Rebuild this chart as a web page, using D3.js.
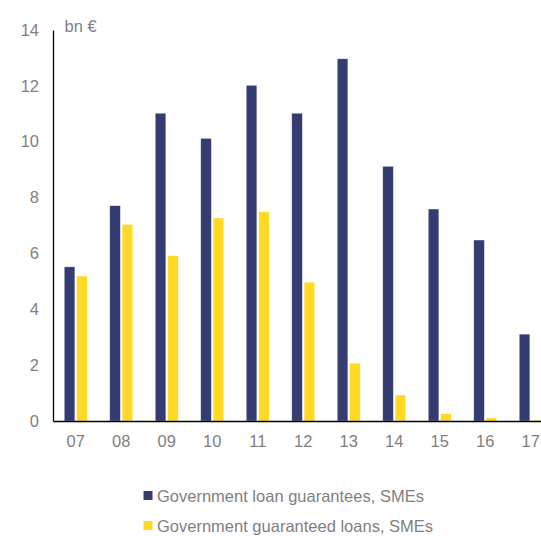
<!DOCTYPE html>
<html><head><meta charset="utf-8">
<script src="https://cdn.jsdelivr.net/npm/d3@7/dist/d3.min.js"></script>
<style>
body{margin:0;background:#fff;}
svg{display:block;font-family:"Liberation Sans",Arial,sans-serif;}
</style></head>
<body><svg id="c" width="541" height="536"></svg>
<script>
const categories = ["07","08","09","10","11","12","13","14","15","16","17"];
const guarantees = [5.52,7.71,11.02,10.12,12.02,11.02,12.97,9.12,7.59,6.48,3.11];
const guaranteedLoans = [5.19,7.04,5.92,7.27,7.49,4.97,2.07,0.93,0.26,0.11,0.03];
const yTicks = [0,2,4,6,8,10,12,14];
const seriesNames = ["Government loan guarantees, SMEs","Government guaranteed loans, SMEs"];
const colors = ["#343c72","#ffd924"];

const svg = d3.select("#c");
const x = d3.scaleBand().domain(categories).range([53, 553.5]).paddingInner(0).paddingOuter(0);
const y = d3.scaleLinear().domain([0,14]).range([421, 30]);
const barW = 10.6, gap = 1.8;
const txt = "#7f7f7f";
const fs = "16.5px";

const g = svg.append("g");
const series = [guarantees, guaranteedLoans];
series.forEach((vals, si) => {
  g.selectAll(null).data(vals).enter().append("rect")
    .attr("x", (d,i) => x(categories[i]) + x.bandwidth()/2 + (si===0 ? -(barW+gap/2) : gap/2))
    .attr("y", d => y(d))
    .attr("width", barW)
    .attr("height", d => y(0) - y(d))
    .attr("fill", colors[si])
    .attr("stroke", "#ffffff").attr("stroke-width", 0.6).attr("stroke-opacity", 0.6);
});

// y axis
const yAxis = d3.axisLeft(y).tickValues(yTicks).tickSize(0).tickPadding(14);
const ya = svg.append("g").attr("transform","translate(53,0)").call(yAxis);
ya.select(".domain").attr("stroke","#000").attr("stroke-width",1.3);
ya.selectAll("text").attr("fill",txt).style("font-size",fs);

// x axis
const xAxis = d3.axisBottom(x).tickSize(0).tickPadding(14);
const xa = svg.append("g").attr("transform","translate(0,421)").call(xAxis);
xa.select(".domain").attr("stroke","#000").attr("stroke-width",1.3);
xa.selectAll("text").attr("fill",txt).style("font-size",fs);

svg.append("text").attr("x",64.5).attr("y",32).attr("fill",txt).style("font-size",fs).text("bn €");

// legend
seriesNames.forEach((n,i) => {
  const ly = 491 + i*30;
  svg.append("rect").attr("x",143.5).attr("y",ly).attr("width",9).attr("height",9).attr("fill",colors[i]);
  svg.append("text").attr("x",157).attr("y",ly+11).attr("fill",txt).style("font-size",fs).text(n);
});
</script></body></html>
